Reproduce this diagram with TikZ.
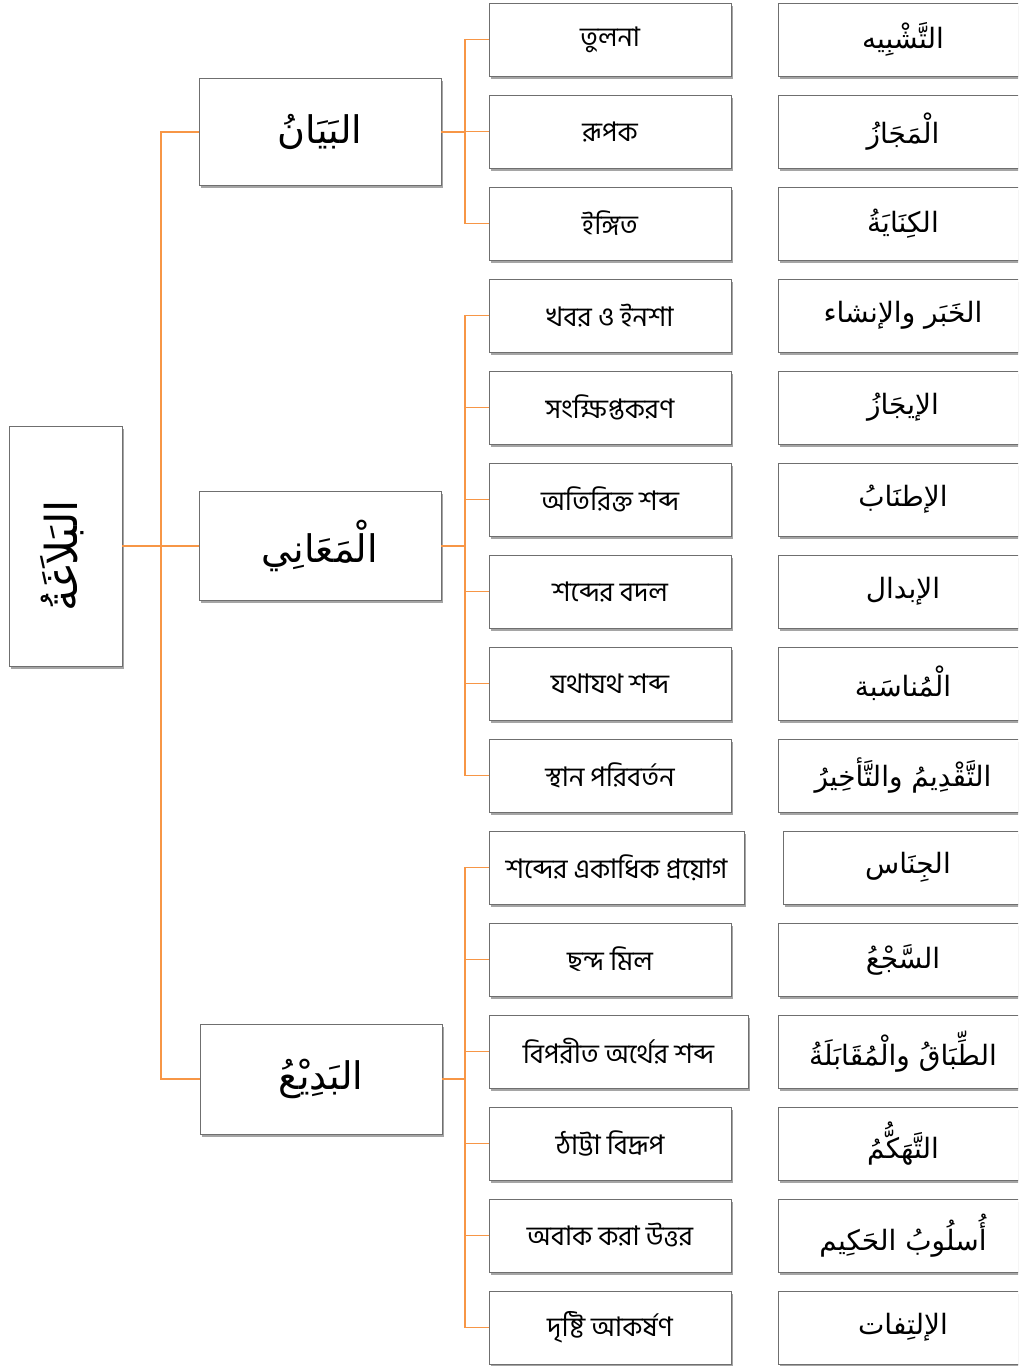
\documentclass[tikz,border=0pt]{standalone}
\usepackage{fontspec}
\usetikzlibrary{shadows}
\TeXXeTstate=1
\newfontfamily\bnfont[Script=Bengali]{Hind Siliguri}
\newfontfamily\arfont[Script=Arabic]{DejaVu Sans}
\definecolor{conncol}{HTML}{F79646}
\definecolor{boxline}{HTML}{6F6F6F}
\tikzset{
  box/.style={draw=boxline, line width=0.9pt, fill=white, inner sep=0pt,
    drop shadow={shadow xshift=1.8pt, shadow yshift=-2.8pt, fill=black!50, opacity=0.7}},
  midbox/.style={box, minimum width=242pt, minimum height=73pt, font=\bnfont\fontsize{27}{30}\selectfont},
  arbox/.style={box, minimum width=250pt, minimum height=73pt, font=\arfont\fontsize{28}{32}\selectfont},
  catbox/.style={box, minimum width=242pt, minimum height=107pt, font=\arfont\fontsize{38}{44}\selectfont},
  conn/.style={draw=conncol, line width=1.4pt}
}
\newcommand{\AR}[1]{\beginR #1\endR}
\begin{document}
\begin{tikzpicture}[x=1pt,y=-1pt]
\clip (0,0) rectangle (1018,1366);
\fill[white] (0,0) rectangle (1018,1366);

% root
\node[box, minimum width=113pt, minimum height=240pt] (root) at (65.5,546) {};
\node[rotate=90, font=\arfont\fontsize{44}{50}\selectfont] (roottxt) at (62,556) {\AR{البَلاَغَةُ}};

% categories
\node[catbox] (bay) at (320,132) {\AR{البَيَانُ}};
\node[catbox, minimum height=109pt] (maa) at (320,546) {\AR{الْمَعَانِي}};
\node[catbox, minimum height=110pt] (bad) at (321,1079) {\AR{البَدِيْعُ}};

% middle column (Bengali)
\node[midbox] (m1) at (610,39.5) {তুলনা};
\node[midbox] (m2) at (610,131.5) {রূপক};
\node[midbox] (m3) at (610,223.5) {ইঙ্গিত};
\node[midbox] (m4) at (610,315.5) {খবর ও ইনশা};
\node[midbox] (m5) at (610,407.5) {সংক্ষিপ্তকরণ};
\node[midbox] (m6) at (610,499.5) {অতিরিক্ত শব্দ};
\node[midbox] (m7) at (610,591.5) {শব্দের বদল};
\node[midbox] (m8) at (610,683.5) {যথাযথ শব্দ};
\node[midbox] (m9) at (610,775.5) {স্থান পরিবর্তন};
\node[midbox, minimum width=255pt] (m10) at (616.5,867.5) {শব্দের একাধিক প্রয়োগ};
\node[midbox] (m11) at (610,959.5) {ছন্দ মিল};
\node[midbox, minimum width=259pt] (m12) at (618.5,1051.5) {বিপরীত অর্থের শব্দ};
\node[midbox] (m13) at (610,1143.5) {ঠাট্টা বিদ্রূপ};
\node[midbox] (m14) at (610,1235.5) {অবাক করা উত্তর};
\node[midbox] (m15) at (610,1327.5) {দৃষ্টি আকর্ষণ};

% right column (Arabic)
\node[arbox] (a1) at (903,39.5) {\AR{التَّشْبِيه}};
\node[arbox] (a2) at (903,131.5) {\AR{الْمَجَازُ}};
\node[arbox] (a3) at (903,223.5) {\AR{الكِنَايَةُ}};
\node[arbox] (a4) at (903,315.5) {\AR{الخَبَر والإنشاء}};
\node[arbox] (a5) at (903,407.5) {\AR{الإيجَازُ}};
\node[arbox] (a6) at (903,499.5) {\AR{الإطنَابُ}};
\node[arbox] (a7) at (903,591.5) {\AR{الإبدال}};
\node[arbox] (a8) at (903,683.5) {\AR{الْمُناسَبة}};
\node[arbox] (a9) at (903,775.5) {\AR{التَّقْدِيمُ والتَّأخِيرُ}};
\node[arbox] (a10) at (908,867.5) {\AR{الجِنَاس}};
\node[arbox] (a11) at (903,959.5) {\AR{السَّجْعُ}};
\node[arbox] (a12) at (903,1051.5) {\AR{الطِّبَاقُ والْمُقَابَلَةُ}};
\node[arbox] (a13) at (903,1143.5) {\AR{التَّهَكُّمُ}};
\node[arbox] (a14) at (903,1235.5) {\AR{أُسلُوبُ الحَكِيم}};
\node[arbox] (a15) at (903,1327.5) {\AR{الإلتِفات}};

% connectors
\coordinate (j0) at (161,546);
\coordinate (jb) at (465,132);
\coordinate (jm) at (465,546);
\coordinate (jd) at (465,1079);
\draw[conn] (root.east) -- (j0);
\draw[conn] (bay.west) -| (j0);
\draw[conn] (maa.west) -- (j0);
\draw[conn] (bad.west) -| (j0);
\draw[conn] (bay.east) -- (jb);
\draw[conn] (maa.east) -- (jm);
\draw[conn] (bad.east) -- (jd);
\foreach \i in {1,2,3} \draw[conn] (m\i.west) -| (jb);
\foreach \i in {4,...,9} \draw[conn] (m\i.west) -| (jm);
\foreach \i in {10,...,15} \draw[conn] (m\i.west) -| (jd);
\end{tikzpicture}
\end{document}
